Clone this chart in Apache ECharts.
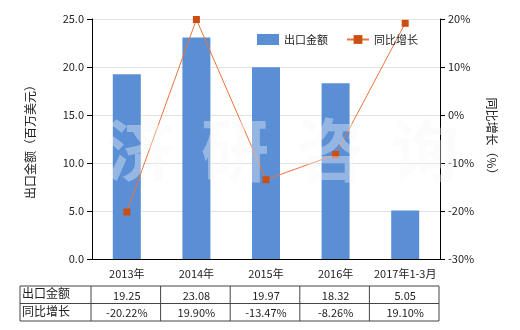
<!DOCTYPE html>
<html><head><meta charset="utf-8">
<script src="https://cdn.jsdelivr.net/npm/echarts@6/dist/echarts.min.js"></script>
<style>html,body{margin:0;padding:0;background:#fff}#c{width:520px;height:330px}</style>
</head><body><div id="c"></div>
<script>
var categories = ['2013年', '2014年', '2015年', '2016年', '2017年1-3月'];
var exportValues = [19.25, 23.08, 19.97, 18.32, 5.05];
var growthValues = [-20.22, 19.90, -13.47, -8.26, 19.10];
var exportLabels = ['19.25', '23.08', '19.97', '18.32', '5.05'];
var growthLabels = ['-20.22%', '19.90%', '-13.47%', '-8.26%', '19.10%'];
var rowNames = ['出口金额', '同比增长'];

var FONT = '"Noto Sans CJK SC", "DejaVu Sans", sans-serif';
var chart = echarts.init(document.getElementById('c'));
var option = {
  animation: false,
  textStyle: { fontFamily: FONT },
  grid: { left: 92, right: 80, top: 19, bottom: 71 },
  legend: {
    top: 29, left: 252, itemWidth: 22, itemHeight: 11, itemGap: 18,
    textStyle: { fontSize: 11, color: '#222', fontFamily: FONT },
    data: [{ name: '出口金额', icon: 'rect' }, { name: '同比增长' }]
  },
  xAxis: {
    type: 'category', data: categories,
    axisLine: { lineStyle: { color: '#000' } },
    axisTick: { alignWithLabel: true, lineStyle: { color: '#000' } },
    axisLabel: { color: '#222', fontSize: 11, margin: 9, interval: 0 }
  },
  yAxis: [{
    type: 'value', min: 0, max: 25, interval: 5,
    name: '出口金额（百万美元）', nameLocation: 'middle', nameGap: 56,
    nameTextStyle: { fontSize: 12, color: '#222' },
    axisLine: { show: true, lineStyle: { color: '#000' } },
    axisTick: { show: true, lineStyle: { color: '#000' } },
    axisLabel: { color: '#222', fontSize: 11, formatter: function (v) { return v.toFixed(1); } },
    splitLine: { lineStyle: { color: '#e2e2e2' } }
  }, {
    type: 'value', min: -30, max: 20, interval: 10,
    name: '同比增长（%）', nameLocation: 'middle', nameGap: 46, nameRotate: -90,
    nameTextStyle: { fontSize: 12, color: '#222' },
    axisLine: { show: true, lineStyle: { color: '#000' } },
    axisTick: { show: true, lineStyle: { color: '#000' } },
    axisLabel: { color: '#222', fontSize: 11, formatter: '{value}%' },
    splitLine: { show: false }
  }],
  series: [{
    name: '出口金额', type: 'bar', data: exportValues, barWidth: 28,
    itemStyle: { color: '#5A8FD5' }
  }, {
    name: '同比增长', type: 'line', yAxisIndex: 1, data: growthValues,
    symbol: 'rect', symbolSize: 7,
    lineStyle: { color: '#E8743B', width: 1 },
    itemStyle: { color: '#CC4E13' }
  }]
};
chart.setOption(option);

// table below chart
var g = [];
var x0 = 20, xAxisLeft = 91, xRight = 439;
var rowY = [286, 303.5, 321];
var colW = (xRight - xAxisLeft) / categories.length;
var lineStyle = { stroke: '#444', lineWidth: 1 };
function hline(y) { g.push({ type: 'line', shape: { x1: x0, y1: y, x2: xRight, y2: y }, style: lineStyle, silent: true }); }
function vline(x) { g.push({ type: 'line', shape: { x1: x, y1: rowY[0], x2: x, y2: rowY[2] }, style: lineStyle, silent: true }); }
rowY.forEach(hline);
vline(x0); vline(xAxisLeft);
for (var i = 0; i < categories.length; i++) vline(xAxisLeft + colW * (i + 1));
var rows = [exportLabels, growthLabels];
rows.forEach(function (r, ri) {
  var cy = (rowY[ri] + rowY[ri + 1]) / 2;
  g.push({ type: 'text', x: x0 + 2, y: cy - 1, style: { text: rowNames[ri], fill: '#222', font: '12px ' + FONT, verticalAlign: 'middle', align: 'left' } });
  r.forEach(function (t, ci) {
    var cx = chart.convertToPixel({ xAxisIndex: 0 }, categories[ci]);
    g.push({ type: 'text', x: cx, y: cy + 1, style: { text: t, fill: '#222', font: '11px ' + FONT, align: 'center', verticalAlign: 'middle' } });
  });
});
// watermark
var wm = ['济', '研', '咨', '询'];
wm.forEach(function (ch, i) {
  g.push({ type: 'text', x: 140 + i * 95, y: 150, z: 100, silent: true,
    style: { text: ch, fill: 'rgba(246,248,250,0.38)', font: 'bold 68px ' + FONT, align: 'center', verticalAlign: 'middle' } });
});
chart.setOption({ graphic: g });
</script></body></html>
